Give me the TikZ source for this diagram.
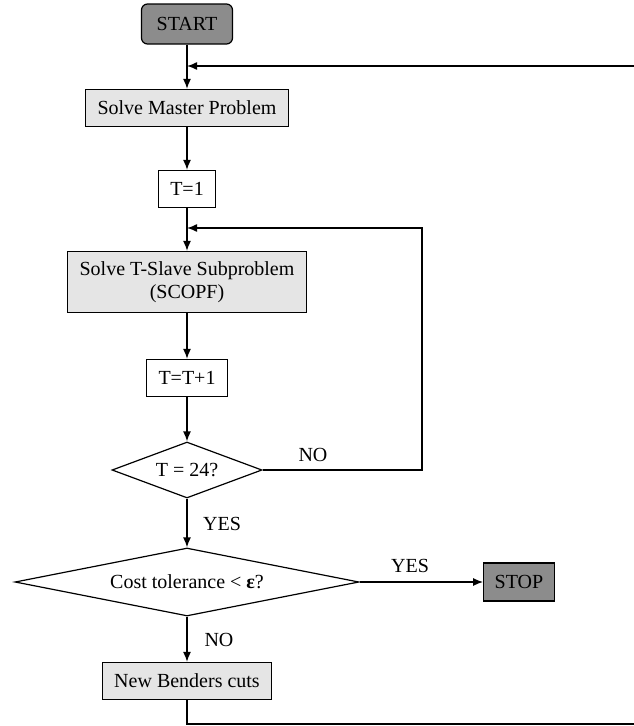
\documentclass[tikz,border=0pt]{standalone}
\usepackage{fontspec}
\setmainfont{Liberation Serif}
\usetikzlibrary{positioning,shapes.geometric,arrows.meta}

\begin{document}
\begin{tikzpicture}[x=1pt, y=-1pt, every node/.style={
    rectangle,
    font=\fontsize{20}{23}\selectfont,
    minimum height=37pt,
    inner xsep=12pt,
  }, line width=1.4pt, >={Latex[length=10pt,width=8pt]},
  box/.style={draw, line width=1.2pt},
  lightbox/.style={box, fill=black!10},
  darkbox/.style={box, fill=black!45},
  decision/.style={diamond, draw, line width=1.2pt, inner sep=0pt}]

  \useasboundingbox (0,0) rectangle (634,726);
  \clip (0,0) rectangle (634,726);

  \node[darkbox, rounded corners=6pt, minimum width=91pt, minimum height=40pt] (start) at (187,24) {START};
  \node[below of=start, node distance=84pt, lightbox] (master) {Solve Master Problem};
  \node[below of=master, node distance=81pt, box] (t1) {T=1};
  \node[below of=t1, node distance=93pt, lightbox, minimum height=61pt, align=center] (slave) {Solve T-Slave Subproblem\\(SCOPF)};
  \node[below of=slave, node distance=96pt, box] (tinc) {T=T+1};
  \node[below of=tinc, node distance=92pt, decision, aspect=2.68, minimum width=150pt, minimum height=56pt] (d1) {T = 24?};
  \node[below of=d1, node distance=112pt, decision, aspect=5.06, minimum width=344pt, minimum height=68pt] (d2) {Cost tolerance < {\bfseries ε}?};
  \node[right of=d2, node distance=332pt, darkbox, inner xsep=11pt, minimum height=38pt] (stop) {STOP};
  \node[below of=d2, node distance=99pt, lightbox] (benders) {New Benders cuts};

  % loop points
  \coordinate (j1) at (187,66);
  \coordinate (j2) at (187,228);
  \coordinate (c1) at (650,724);
  \coordinate (c2) at (650,66);
  \coordinate (c3) at (422,228);

  \draw[->] (start) -- (master);
  \draw[->] (master) -- (t1);
  \draw[->] (t1) -- (slave);
  \draw[->] (slave) -- (tinc);
  \draw[->] (tinc) -- (d1);
  \draw[->] (d1) -- (d2);
  \draw[->] (d2) -- (stop);
  \draw[->] (d2) -- (benders);

  \draw[->] (d1.east) -| (c3) -- (j2);
  \draw[->] (benders.south) |- (c1) -- (c2) -- (j1);

  \node (no1) at (313,455) {NO};
  \node (yes1) at (222,524) {YES};
  \node (yes2) at (410,566) {YES};
  \node (no2) at (219,640) {NO};

\end{tikzpicture}
\end{document}
